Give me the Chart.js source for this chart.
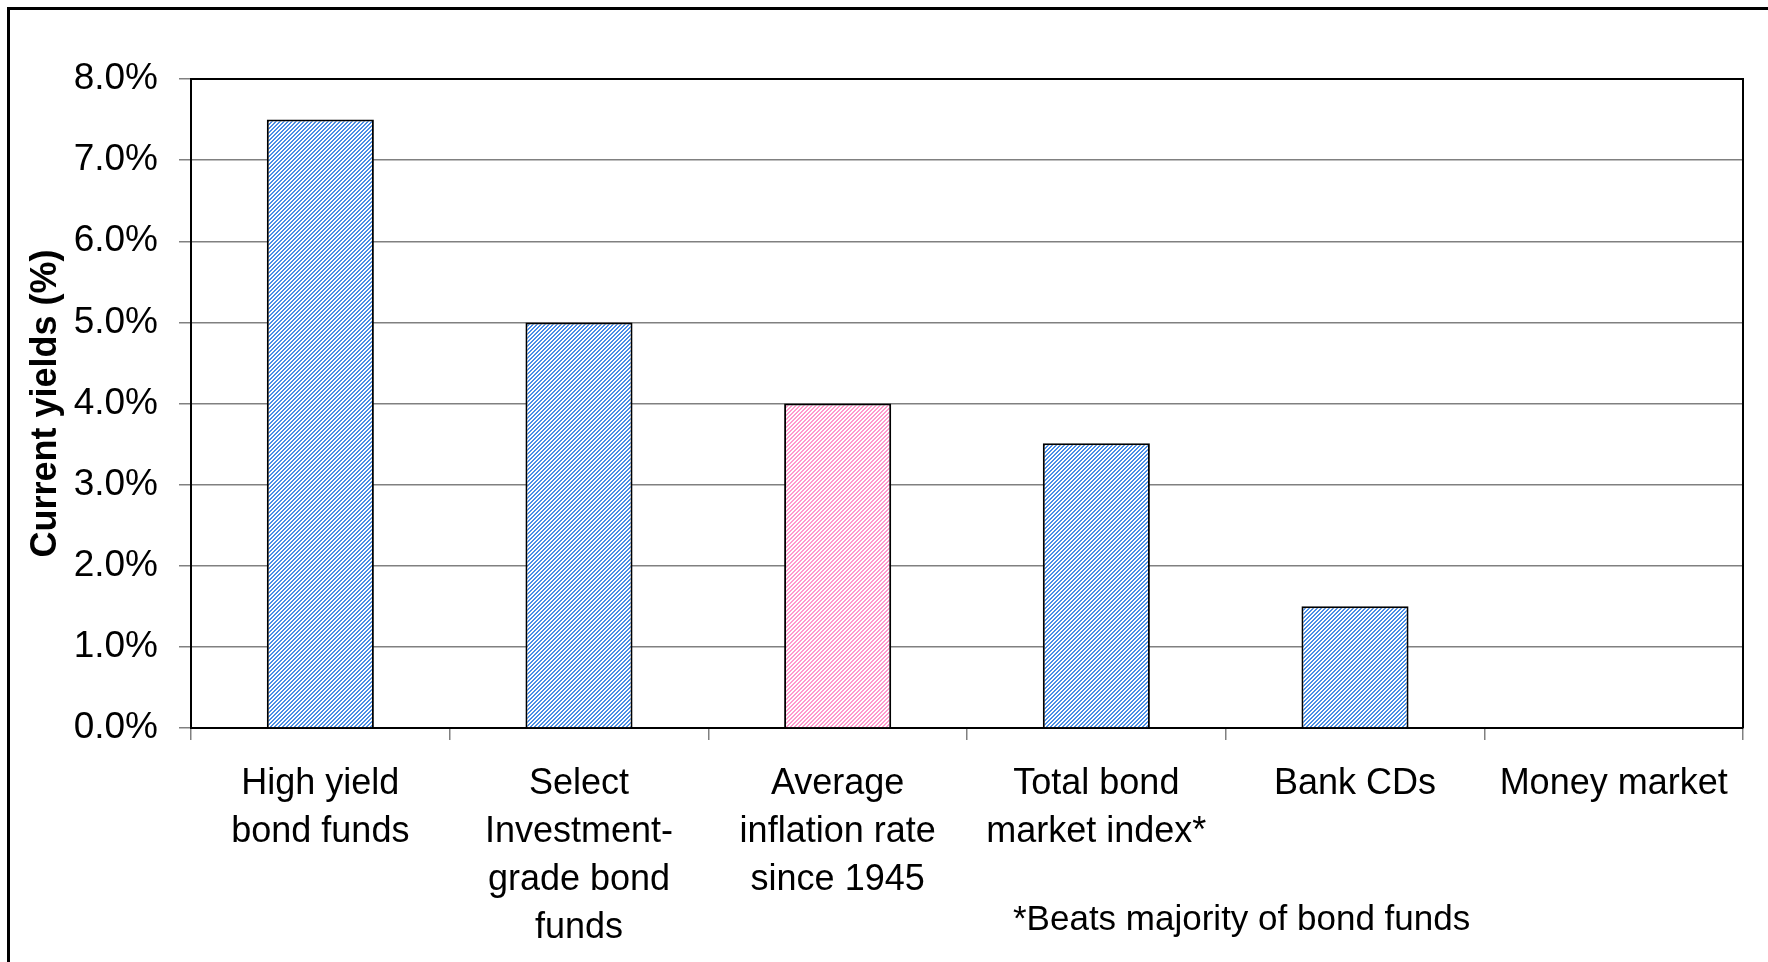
<!DOCTYPE html>
<html>
<head>
<meta charset="utf-8">
<script src="https://cdn.jsdelivr.net/npm/chart.js@4/dist/chart.umd.min.js"></script>
<style>
  html, body { margin: 0; padding: 0; background: #fff; overflow: hidden; }
  #wrap { position: absolute; left: 0; top: 0; width: 1768px; height: 962px; }
</style>
</head>
<body>
<div id="wrap"><canvas id="c" width="1768" height="962"></canvas></div>
<script>
// ---- data ----
const categories = [
  ["High yield", "bond funds"],
  ["Select", "Investment-", "grade bond", "funds"],
  ["Average", "inflation rate", "since 1945"],
  ["Total bond", "market index*"],
  ["Bank CDs"],
  ["Money market"]
];
const yields = [7.5, 5.0, 4.0, 3.51, 1.5, 0.0];
const highlight = [false, false, true, false, false, false];
const yTickLabels = ["0.0%", "1.0%", "2.0%", "3.0%", "4.0%", "5.0%", "6.0%", "7.0%", "8.0%"];
const yTitle = "Current yields (%)";
const footnote = "*Beats majority of bond funds";

// ---- hatch patterns ----
function makePattern(fg) {
  const p = document.createElement('canvas');
  p.width = 4; p.height = 4;
  const g = p.getContext('2d');
  g.fillStyle = '#ffffff';
  g.fillRect(0, 0, 4, 4);
  g.fillStyle = fg;
  for (let y = 0; y < 4; y++) {
    for (let x = 0; x < 4; x++) {
      if (((x + y) % 4) < 2) g.fillRect(x, y, 1, 1);
    }
  }
  return document.getElementById('c').getContext('2d').createPattern(p, 'repeat');
}
const bluePat = makePattern('#4a8ee6');
const pinkPat = makePattern('#ff99cc');

const frame = {
  id: 'frame',
  beforeDraw(chart) {
    const ctx = chart.ctx;
    ctx.save();
    ctx.fillStyle = '#fff';
    ctx.fillRect(0, 0, chart.width, chart.height);
    ctx.strokeStyle = '#000';
    ctx.lineWidth = 3;
    ctx.beginPath();
    ctx.moveTo(8.5, chart.height + 10);
    ctx.lineTo(8.5, 8.5);
    ctx.lineTo(chart.width + 10, 8.5);
    ctx.stroke();
    ctx.restore();
  },
  afterDraw(chart) {
    const ctx = chart.ctx;
    const a = chart.chartArea;
    ctx.save();
    ctx.strokeStyle = '#000';
    ctx.lineWidth = 2;
    ctx.beginPath();
    ctx.moveTo(a.left, a.top);
    ctx.lineTo(a.right, a.top);
    ctx.lineTo(a.right, a.bottom);
    ctx.stroke();
    ctx.fillStyle = '#000';
    ctx.font = '35px "Liberation Sans", Arial, sans-serif';
    ctx.textAlign = 'left';
    ctx.textBaseline = 'alphabetic';
    ctx.fillText(footnote, 1013, 930);
    ctx.restore();
  }
};

new Chart(document.getElementById('c'), {
  type: 'bar',
  data: {
    labels: categories,
    datasets: [{
      data: yields,
      backgroundColor: highlight.map(h => h ? pinkPat : bluePat),
      borderColor: '#000',
      borderWidth: 2,
      barPercentage: 0.414,
      categoryPercentage: 1.0
    }]
  },
  options: {
    responsive: false,
    animation: false,
    devicePixelRatio: 1,
    layout: { padding: { left: 0, top: 79, right: 25, bottom: 0 } },
    plugins: { legend: { display: false }, tooltip: { enabled: false } },
    scales: {
      x: {
        grid: { offset: true, drawOnChartArea: false, drawTicks: true, tickLength: 12, color: '#808080', lineWidth: 1.5 },
        border: { display: true, color: '#000', width: 2 },
        ticks: {
          color: '#000', padding: 20, maxRotation: 0, autoSkip: false,
          font: { family: '"Liberation Sans", Arial, sans-serif', size: 36, lineHeight: 1.333 }
        },
        afterFit(s) { s.height = 234; }
      },
      y: {
        min: 0, max: 8,
        grid: { drawOnChartArea: true, drawTicks: true, tickLength: 12, color: '#808080', lineWidth: 1.5 },
        border: { display: true, color: '#000', width: 2 },
        ticks: {
          stepSize: 1, color: '#000', padding: 21,
          font: { family: '"Liberation Sans", Arial, sans-serif', size: 37 },
          callback: (v, i) => yTickLabels[i]
        },
        title: {
          display: true, text: yTitle, color: '#000',
          font: { family: '"Liberation Sans", Arial, sans-serif', size: 36, weight: 'bold' },
          padding: { top: 24, bottom: 0 }
        },
        afterFit(s) { s.width = 191; }
      }
    }
  },
  plugins: [frame]
});
</script>
</body>
</html>
